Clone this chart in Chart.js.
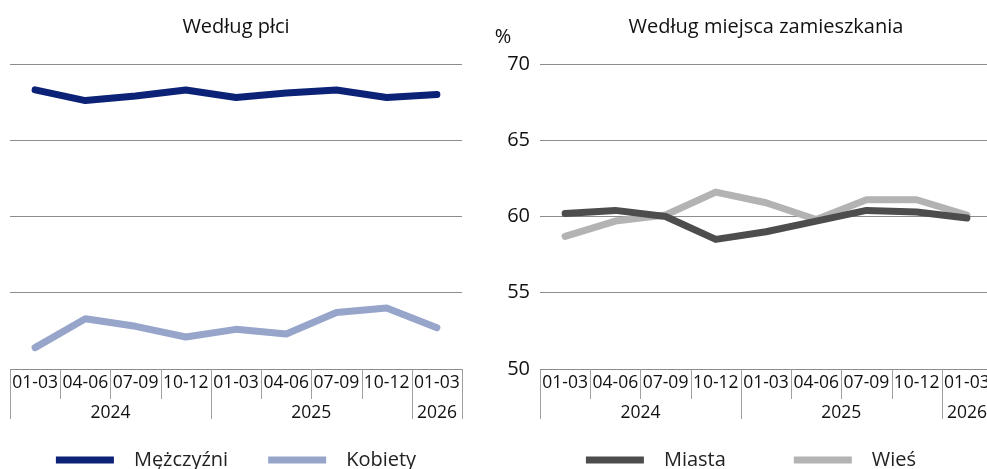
<!DOCTYPE html>
<html lang="pl">
<head>
<meta charset="utf-8">
<script src="https://cdn.jsdelivr.net/npm/chart.js@4.4.7/dist/chart.umd.min.js"></script>
<style>
  body { margin: 0; background: #fff; overflow: hidden; width: 987px; height: 469px; position: relative; }
  .panel { position: absolute; top: 0; }
  #lewy { left: 0; }
  #prawy { left: 480px; }
</style>
</head>
<body>
<div class="panel" id="lewy"><canvas id="wykresPlec" width="472" height="482"></canvas></div>
<div class="panel" id="prawy"><canvas id="wykresMiejsce" width="572" height="482"></canvas></div>
<script>
// ===== dane =====
const kwartaly = ['01-03', '04-06', '07-09', '10-12', '01-03', '04-06', '07-09', '10-12', '01-03'];
const lata = ['2024', '2024', '2024', '2024', '2025', '2025', '2025', '2025', '2026'];
const mezczyzni = [68.3, 67.6, 67.9, 68.3, 67.8, 68.1, 68.3, 67.8, 68.0];
const kobiety = [51.4, 53.3, 52.8, 52.1, 52.6, 52.3, 53.7, 54.0, 52.7];
const miasta = [60.2, 60.4, 60.0, 58.5, 59.0, 59.7, 60.4, 60.3, 59.9];
const wies = [58.7, 59.7, 60.1, 61.6, 60.9, 59.8, 61.1, 61.1, 60.1];
const osY = [50, 55, 60, 65, 70];

const FONT = '"Open Sans", "Noto Sans", sans-serif';
const KOLOR_SIATKI = '#8c8c8c';
const KOLOR_RAMKI = '#a0a0a0';

// ===== dwupoziomowa oś X (kwartał / rok) =====
const osKwartalna = {
  id: 'osKwartalna',
  afterDraw(chart) {
    const ctx = chart.ctx;
    const x = chart.scales.x;
    const dol = chart.chartArea.bottom;
    const szer = x.getPixelForValue(1) - x.getPixelForValue(0);
    ctx.save();
    ctx.strokeStyle = KOLOR_RAMKI;
    ctx.lineWidth = 1;
    ctx.fillStyle = '#111';
    ctx.textAlign = 'center';
    ctx.textBaseline = 'middle';
    ctx.font = '17.5px ' + FONT;

    kwartaly.forEach((k, i) => {
      const srodek = x.getPixelForValue(i);
      const granica = Math.round(srodek - szer / 2) + 0.5;
      const nowyRok = i === 0 || lata[i] !== lata[i - 1];
      ctx.beginPath();
      ctx.moveTo(granica, dol);
      ctx.lineTo(granica, dol + (nowyRok ? 50 : 30));
      ctx.stroke();
      ctx.fillText(k, srodek, dol + 14);
    });
    const koniec = Math.round(x.getPixelForValue(kwartaly.length - 1) + szer / 2) + 0.5;
    ctx.beginPath();
    ctx.moveTo(koniec, dol);
    ctx.lineTo(koniec, dol + 50);
    ctx.stroke();

    // etykiety lat
    let start = 0;
    for (let i = 1; i <= lata.length; i++) {
      if (i === lata.length || lata[i] !== lata[start]) {
        const a = x.getPixelForValue(start) - szer / 2;
        const b = x.getPixelForValue(i - 1) + szer / 2;
        ctx.fillText(lata[start], (a + b) / 2, dol + 44);
        start = i;
      }
    }
    ctx.restore();
  }
};

const znakProcent = {
  id: 'znakProcent',
  afterDraw(chart) {
    const ctx = chart.ctx;
    ctx.save();
    ctx.fillStyle = '#111';
    ctx.font = '20px ' + FONT;
    ctx.textAlign = 'center';
    ctx.textBaseline = 'middle';
    ctx.fillText('%', chart.chartArea.left - 37, chart.chartArea.top - 27);
    ctx.restore();
  }
};

// przesunięcie legendy w poziomie
function przesunLegende(dx) {
  return {
    id: 'przesunLegende',
    afterLayout(chart) {
      chart.legend.left += dx;
      chart.legend.right += dx;
    }
  };
}

function zbiorDanych(nazwa, dane, kolor) {
  return {
    label: nazwa,
    data: dane,
    borderColor: kolor,
    backgroundColor: kolor,
    borderWidth: 7,
    pointRadius: 0,
    tension: 0,
    borderJoinStyle: 'round',
    borderCapStyle: 'round'
  };
}

function utworzWykres(id, tytul, zbiory, pokazOsY, padding, odstepLegendy, dx) {
  const ctx = document.getElementById(id).getContext('2d');
  const skale = {
    x: {
      offset: true,
      grid: { display: false },
      border: { display: false },
      ticks: { display: false },
      afterFit(s) { s.height = 81 - odstepLegendy; }
    },
    y: {
      min: osY[0],
      max: osY[osY.length - 1],
      afterBuildTicks(s) { s.ticks = osY.map(v => ({ value: v })); },
      grid: { color: KOLOR_SIATKI, lineWidth: 1, drawTicks: false },
      border: { display: false },
      ticks: {
        display: pokazOsY,
        color: '#111',
        padding: 10,
        font: { family: FONT, size: 20 }
      },
      afterFit(s) { s.width = pokazOsY ? 60 : 0; }
    }
  };
  if (pokazOsY) {
    // pusta oś po prawej, żeby obszar wykresu był na środku płótna
    skale.y2 = {
      position: 'right',
      min: osY[0],
      max: osY[osY.length - 1],
      grid: { display: false },
      border: { display: false },
      ticks: { display: false },
      afterFit(s) { s.width = 60; }
    };
  }
  const wtyczki = [osKwartalna, przesunLegende(dx)];
  if (pokazOsY) wtyczki.push(znakProcent);

  return new Chart(ctx, {
    type: 'line',
    data: { labels: kwartaly, datasets: zbiory },
    options: {
      responsive: false,
      animation: false,
      devicePixelRatio: 1,
      layout: { padding: padding },
      plugins: {
        title: {
          display: true,
          text: tytul,
          color: '#111',
          font: { family: FONT, size: 20, weight: 'normal' },
          padding: { top: 15, bottom: 25 }
        },
        legend: {
          position: 'bottom',
          labels: {
            color: '#222',
            font: { family: FONT, size: 20 },
            boxWidth: 58,
            boxHeight: 7,
            useBorderRadius: true,
            borderRadius: 3.5,
            padding: odstepLegendy,
            generateLabels(chart) {
              return chart.data.datasets.map((d, i) => ({
                text: '\u2002' + d.label,
                fillStyle: d.borderColor,
                strokeStyle: d.borderColor,
                lineWidth: 0,
                fontColor: '#222',
                datasetIndex: i
              }));
            }
          }
        },
        tooltip: { enabled: false }
      },
      scales: skale
    },
    plugins: wtyczki
  });
}

document.addEventListener('DOMContentLoaded', () => {
  utworzWykres('wykresPlec', 'Według płci', [
    zbiorDanych('Mężczyźni', mezczyzni, '#0c2277'),
    zbiorDanych('Kobiety', kobiety, '#97a5ca')
  ], false, { left: 10, right: 10, bottom: 2 }, 40, 0);

  utworzWykres('wykresMiejsce', 'Według miejsca zamieszkania', [
    zbiorDanych('Miasta', miasta, '#4d4d4d'),
    zbiorDanych('Wieś', wies, '#b3b3b3')
  ], true, { left: 0, right: 0, bottom: 2 }, 68, -15);
});
</script>
</body>
</html>
